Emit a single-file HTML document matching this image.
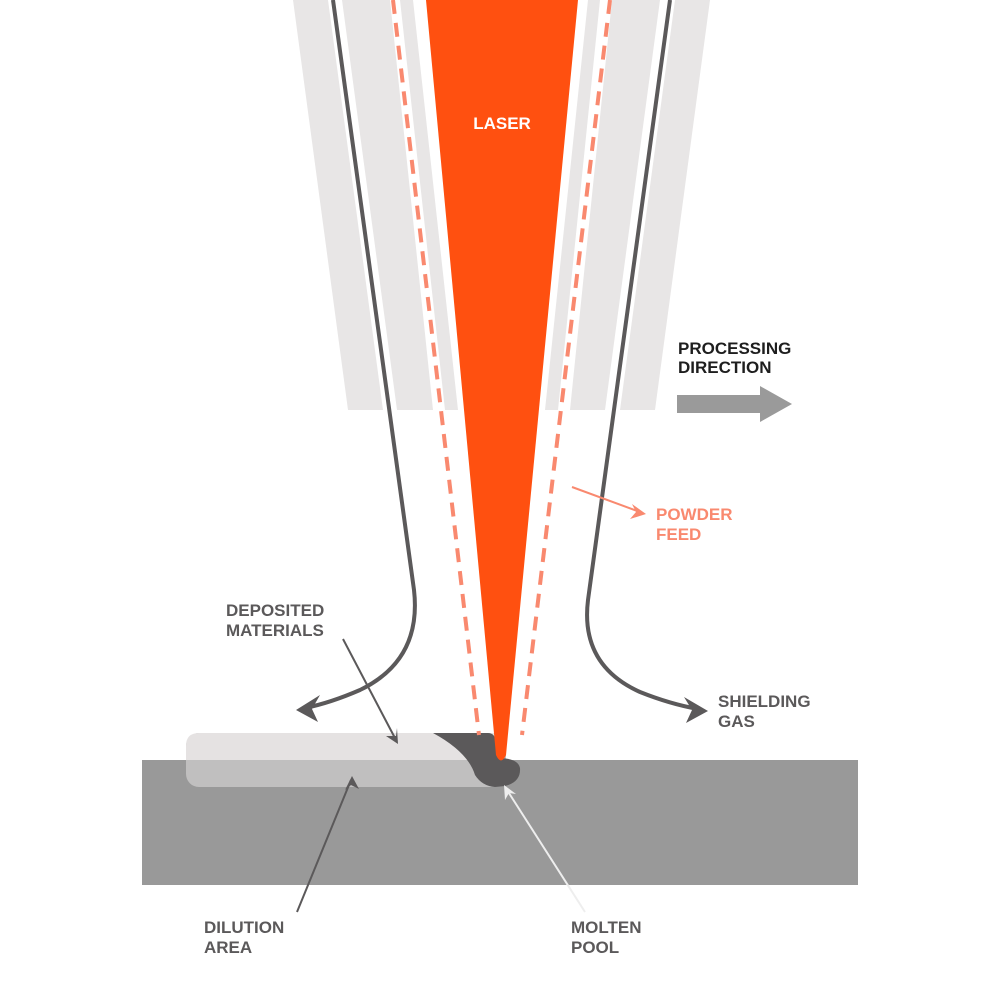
<!DOCTYPE html>
<html><head><meta charset="utf-8"><style>
html,body{margin:0;padding:0;background:#fff;}
svg{display:block;}
text{font-family:"Liberation Sans",Arial,sans-serif;font-weight:bold;font-size:17px;}
</style></head><body>
<svg width="1000" height="1000" viewBox="0 0 1000 1000" xmlns="http://www.w3.org/2000/svg">
<!-- nozzle strips -->
<g fill="#e8e6e6">
<polygon points="293,0 328,0 383,410 348,410"/>
<polygon points="342,0 390,0 433,410 397,410"/>
<polygon points="400,0 413,0 458,410 445,410"/>
<polygon points="600,0 588,0 545,410 558,410"/>
<polygon points="660,0 612,0 570,410 605,410"/>
<polygon points="710,0 675,0 620,410 655,410"/>
</g>
<!-- substrate -->
<rect x="142" y="760" width="716" height="125" fill="#999999"/>
<!-- bead -->
<rect x="186" y="733" width="320" height="54" rx="13" fill="#c0bfbf"/>
<path d="M199,733 H500 V760 H186 V746 Q186,733 199,733 Z" fill="#e5e2e2"/>
<!-- molten pool -->
<path d="M433,733 H488 Q495,733 496,742 L498,758 Q518,758 520,768 Q521,782 505,786 L495,787 Q482,786 475,775 Q468,752 433,733 Z" fill="#5b595a"/>
<!-- dashed powder lines -->
<g stroke="#f9896f" stroke-width="4" stroke-dasharray="14,9" fill="none">
<line x1="393" y1="0" x2="479" y2="735"/>
<line x1="610" y1="0" x2="522" y2="735"/>
</g>
<!-- laser -->
<path d="M426,0 H578 L506,755 Q501,766 496,755 Z" fill="#ff5010"/>
<text x="502" y="129" fill="#fff" text-anchor="middle">LASER</text>
<!-- shielding gas lines -->
<g stroke="#5b595a" stroke-width="4" fill="none">
<path d="M333,0 L414,590 Q422,660 360,690 Q330,703 305,708"/>
<path d="M670,0 L588,600 Q580,665 640,692 Q670,704 698,709"/>
</g>
<polygon points="296,710 320,695 312,709 318,722" fill="#5b595a"/>
<polygon points="708,711 684,697 692,710 686,723" fill="#5b595a"/>
<!-- leaders -->
<g stroke="#5b595a" stroke-width="2" fill="none">
<line x1="343" y1="639" x2="396" y2="740"/>
<line x1="297" y1="912" x2="351" y2="780"/>
</g>
<polygon points="398,744 386,736 396,736 397,728" fill="#5b595a"/>
<polygon points="352,776 345,790 351,785 359,789" fill="#5b595a"/>
<line x1="585" y1="912" x2="507" y2="790" stroke="#eeeeee" stroke-width="2"/>
<polygon points="504,785 505,800 509,793 516,794" fill="#eeeeee"/>
<line x1="572" y1="487" x2="640" y2="512" stroke="#f9896f" stroke-width="2"/>
<polygon points="646,514 632,504 636,512 630,519" fill="#f9896f"/>
<!-- processing arrow -->
<rect x="677" y="395" width="85" height="18" fill="#9a9a9a"/>
<polygon points="760,386 792,404 760,422" fill="#9a9a9a"/>
<!-- labels -->
<text fill="#1e1e1e"><tspan x="678" y="354">PROCESSING</tspan><tspan x="678" y="373">DIRECTION</tspan></text>
<text fill="#f9896f"><tspan x="656" y="520">POWDER</tspan><tspan x="656" y="540">FEED</tspan></text>
<text fill="#5b595a"><tspan x="226" y="616">DEPOSITED</tspan><tspan x="226" y="636">MATERIALS</tspan></text>
<text fill="#5b595a"><tspan x="718" y="707">SHIELDING</tspan><tspan x="718" y="727">GAS</tspan></text>
<text fill="#5b595a"><tspan x="204" y="933">DILUTION</tspan><tspan x="204" y="953">AREA</tspan></text>
<text fill="#5b595a"><tspan x="571" y="933">MOLTEN</tspan><tspan x="571" y="953">POOL</tspan></text>
</svg>
</body></html>
